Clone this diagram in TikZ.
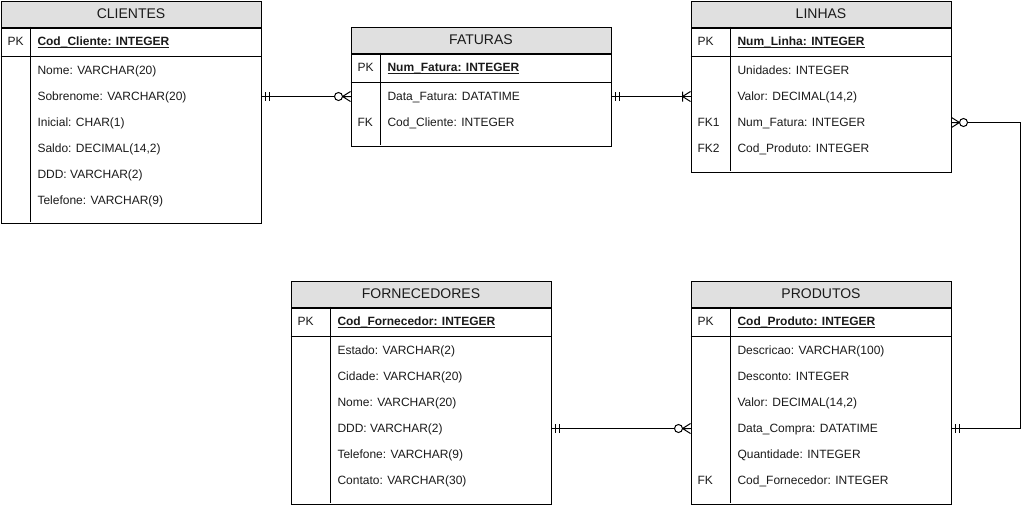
\documentclass[tikz,border=0pt]{standalone}
\usepackage{fontspec}
\setmainfont{Liberation Sans}
\definecolor{hdrfill}{HTML}{E0E0E0}
\definecolor{txt}{HTML}{1A1A1A}
% bold, underlined primary-key field
\newcommand\pkname[1]{\setbox0\hbox{\bfseries #1}\rlap{\rule[-2.2pt]{\wd0}{0.9pt}}\box0}
\begin{document}
\begin{tikzpicture}[x=1pt,y=-1pt,line width=1pt,
  font=\fontsize{12}{14}\selectfont,
  tblhead/.style={draw,fill=hdrfill,minimum width=260pt,minimum height=26pt,
    inner sep=0pt,anchor=north west,text=txt,font=\fontsize{14}{16}\selectfont},
  tblbody/.style={draw,minimum width=260pt,inner sep=0pt,anchor=north west},
  field/.style={anchor=west,inner sep=0pt,text height=8.6pt,text depth=0pt,text=txt},
  rel/.style={draw,line width=1pt},
  mandone/.pic={\draw (4,-4.5)--(4,4.5) (8,-4.5)--(8,4.5);},
  zeromany/.pic={\draw (0,-5)--(8,0)--(0,5) (0,0)--(8,0);
                 \draw[fill=white] (12,0) circle (4);},
  onemany/.pic={\draw (0,-5)--(8,0)--(0,5) (8,-5)--(8,5);}
]
\useasboundingbox (0,0) rectangle (1031,504);

% ---------- CLIENTES ----------
\node[tblhead] (cli) at (0.5,0.5) {CLIENTES};
\node[tblbody,minimum height=195pt] (cli-box) at (cli.south west) {};
\draw (0.5,56.5) -- (260.5,56.5);
\draw (30.5,26.5) -- (30.5,221.5);
\node[field] (cli-pk) at (7,41.5) {PK};
\node[field] (cli-0) at (37,41.5) {\pkname{Cod\_Cliente: INTEGER}};
\node[field] (cli-1) at (37,70.5) {Nome: VARCHAR(20)};
\node[field] (cli-2) at (37,96.5) {Sobrenome: VARCHAR(20)};
\node[field] (cli-3) at (37,122.5) {Inicial: CHAR(1)};
\node[field] (cli-4) at (37,148.5) {Saldo: DECIMAL(14,2)};
\node[field] (cli-5) at (37,174.5) {DDD: VARCHAR(2)};
\node[field] (cli-6) at (37,200.5) {Telefone: VARCHAR(9)};

% ---------- FATURAS ----------
\node[tblhead] (fat) at (350.5,26.5) {FATURAS};
\node[tblbody,minimum height=92pt] (fat-box) at (fat.south west) {};
\draw (350.5,82.5) -- (610.5,82.5);
\draw (380.5,52.5) -- (380.5,144.5);
\node[field] (fat-pk) at (357,67.5) {PK};
\node[field] (fat-0) at (387,67.5) {\pkname{Num\_Fatura: INTEGER}};
\node[field] (fat-1) at (387,96.5) {Data\_Fatura: DATATIME};
\node[field] (fat-fk) at (357,122.5) {FK};
\node[field] (fat-2) at (387,122.5) {Cod\_Cliente: INTEGER};

% ---------- LINHAS ----------
\node[tblhead] (lin) at (690.5,0.5) {LINHAS};
\node[tblbody,minimum height=144pt] (lin-box) at (lin.south west) {};
\draw (690.5,56.5) -- (950.5,56.5);
\draw (730.5,26.5) -- (730.5,170.5);
\node[field] (lin-pk) at (697,41.5) {PK};
\node[field] (lin-0) at (737,41.5) {\pkname{Num\_Linha: INTEGER}};
\node[field] (lin-1) at (737,70.5) {Unidades: INTEGER};
\node[field] (lin-2) at (737,96.5) {Valor: DECIMAL(14,2)};
\node[field] (lin-fk1) at (697,122.5) {FK1};
\node[field] (lin-3) at (737,122.5) {Num\_Fatura: INTEGER};
\node[field] (lin-fk2) at (697,148.5) {FK2};
\node[field] (lin-4) at (737,148.5) {Cod\_Produto: INTEGER};

% ---------- FORNECEDORES ----------
\node[tblhead] (frn) at (290.5,280.5) {FORNECEDORES};
\node[tblbody,minimum height=196pt] (frn-box) at (frn.south west) {};
\draw (290.5,336.5) -- (550.5,336.5);
\draw (330.5,306.5) -- (330.5,502.5);
\node[field] (frn-pk) at (297,321.5) {PK};
\node[field] (frn-0) at (337,321.5) {\pkname{Cod\_Fornecedor: INTEGER}};
\node[field] (frn-1) at (337,350.5) {Estado: VARCHAR(2)};
\node[field] (frn-2) at (337,376.5) {Cidade: VARCHAR(20)};
\node[field] (frn-3) at (337,402.5) {Nome: VARCHAR(20)};
\node[field] (frn-4) at (337,428.5) {DDD: VARCHAR(2)};
\node[field] (frn-5) at (337,454.5) {Telefone: VARCHAR(9)};
\node[field] (frn-6) at (337,480.5) {Contato: VARCHAR(30)};

% ---------- PRODUTOS ----------
\node[tblhead] (pro) at (690.5,280.5) {PRODUTOS};
\node[tblbody,minimum height=196pt] (pro-box) at (pro.south west) {};
\draw (690.5,336.5) -- (950.5,336.5);
\draw (730.5,306.5) -- (730.5,502.5);
\node[field] (pro-pk) at (697,321.5) {PK};
\node[field] (pro-0) at (737,321.5) {\pkname{Cod\_Produto: INTEGER}};
\node[field] (pro-1) at (737,350.5) {Descricao: VARCHAR(100)};
\node[field] (pro-2) at (737,376.5) {Desconto: INTEGER};
\node[field] (pro-3) at (737,402.5) {Valor: DECIMAL(14,2)};
\node[field] (pro-4) at (737,428.5) {Data\_Compra: DATATIME};
\node[field] (pro-5) at (737,454.5) {Quantidade: INTEGER};
\node[field] (pro-fk) at (697,480.5) {FK};
\node[field] (pro-6) at (737,480.5) {Cod\_Fornecedor: INTEGER};

% ---------- relationships ----------
\coordinate (bend) at (1020.5,0);

\draw[rel] (cli-box.east |- cli-2) -- (fat-box.west |- fat-1);
\pic at (cli-box.east |- cli-2) {mandone};
\pic[rotate=180] at (fat-box.west |- fat-1) {zeromany};

\draw[rel] (fat-box.east |- fat-1) -- (lin-box.west |- lin-2);
\pic at (fat-box.east |- fat-1) {mandone};
\pic[rotate=180] at (lin-box.west |- lin-2) {onemany};

\draw[rel] (lin-box.east |- lin-3) -| (bend |- pro-4) -- (pro-box.east |- pro-4);
\pic at (lin-box.east |- lin-3) {zeromany};
\pic at (pro-box.east |- pro-4) {mandone};

\draw[rel] (frn-box.east |- frn-4) -- (pro-box.west |- pro-4);
\pic at (frn-box.east |- frn-4) {mandone};
\pic[rotate=180] at (pro-box.west |- pro-4) {zeromany};
\end{tikzpicture}
\end{document}
